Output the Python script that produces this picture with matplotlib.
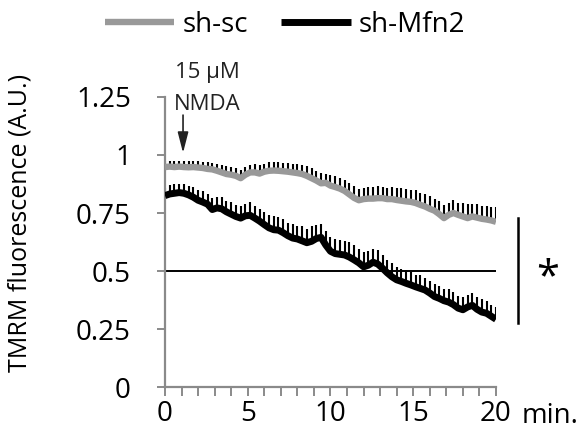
import matplotlib
matplotlib.use("Agg")
import matplotlib.pyplot as plt
import numpy as np

plt.rcParams['font.family'] = ['Open Sans', 'DejaVu Sans']

# time axis: 71 samples over 20 min
minutes = np.linspace(0, 20, 71)

sh_sc = [0.948, 0.950, 0.948, 0.950, 0.948, 0.947, 0.948, 0.946, 0.944, 0.940,
         0.938, 0.932, 0.925, 0.918, 0.915, 0.910, 0.900, 0.915, 0.925, 0.925,
         0.920, 0.928, 0.932, 0.933, 0.932, 0.930, 0.928, 0.925, 0.922, 0.918,
         0.910, 0.900, 0.890, 0.878, 0.880, 0.868, 0.862, 0.855, 0.845, 0.830,
         0.815, 0.805, 0.810, 0.812, 0.812, 0.814, 0.814, 0.810, 0.810, 0.806,
         0.803, 0.800, 0.798, 0.793, 0.785, 0.778, 0.768, 0.760, 0.745, 0.728,
         0.742, 0.750, 0.742, 0.735, 0.728, 0.735, 0.730, 0.725, 0.722, 0.718,
         0.712]
sh_sc_se = [0.024, 0.026, 0.025, 0.026, 0.024, 0.026, 0.025, 0.026, 0.027, 0.028,
            0.028, 0.030, 0.032, 0.034, 0.032, 0.035, 0.037, 0.032, 0.034, 0.036,
            0.038, 0.034, 0.036, 0.037, 0.038, 0.037, 0.036, 0.038, 0.040, 0.038,
            0.042, 0.044, 0.042, 0.046, 0.040, 0.044, 0.047, 0.045, 0.048, 0.050,
            0.052, 0.048, 0.046, 0.050, 0.048, 0.052, 0.050, 0.048, 0.052, 0.050,
            0.054, 0.052, 0.050, 0.054, 0.052, 0.056, 0.054, 0.052, 0.057, 0.055,
            0.050, 0.054, 0.052, 0.057, 0.060, 0.054, 0.058, 0.056, 0.060, 0.057,
            0.062]

sh_mfn2 = [0.825, 0.832, 0.835, 0.838, 0.835, 0.828, 0.818, 0.805, 0.797, 0.788,
           0.765, 0.772, 0.768, 0.755, 0.745, 0.735, 0.728, 0.738, 0.740, 0.728,
           0.715, 0.700, 0.686, 0.678, 0.676, 0.665, 0.652, 0.642, 0.638, 0.630,
           0.622, 0.628, 0.640, 0.645, 0.612, 0.585, 0.575, 0.572, 0.569, 0.560,
           0.548, 0.535, 0.518, 0.525, 0.538, 0.530, 0.512, 0.492, 0.475, 0.462,
           0.455, 0.447, 0.440, 0.432, 0.425, 0.418, 0.405, 0.390, 0.382, 0.372,
           0.366, 0.355, 0.340, 0.333, 0.345, 0.352, 0.335, 0.323, 0.318, 0.305,
           0.292]
sh_mfn2_se = [0.032, 0.037, 0.040, 0.038, 0.042, 0.040, 0.044, 0.042, 0.046, 0.044,
              0.048, 0.046, 0.050, 0.048, 0.052, 0.050, 0.054, 0.052, 0.056, 0.054,
              0.052, 0.056, 0.054, 0.058, 0.056, 0.060, 0.057, 0.060, 0.058, 0.062,
              0.060, 0.064, 0.060, 0.057, 0.062, 0.060, 0.064, 0.062, 0.060, 0.064,
              0.062, 0.060, 0.064, 0.062, 0.057, 0.060, 0.058, 0.056, 0.060, 0.057,
              0.054, 0.057, 0.054, 0.052, 0.056, 0.054, 0.052, 0.056, 0.054, 0.052,
              0.056, 0.054, 0.052, 0.056, 0.050, 0.054, 0.052, 0.056, 0.054, 0.050,
              0.052]

y_ticks = [0, 0.25, 0.5, 0.75, 1, 1.25]
y_tick_labels = ['0', '0.25', '0.5', '0.75', '1', '1.25']
x_ticks = [0, 5, 10, 15, 20]

grey = '#999999'
axis_grey = '#8a8a8a'

fig = plt.figure(figsize=(5.82, 4.33), dpi=100)
ax = fig.add_axes([0.2835, 0.1062, 0.5687, 0.6698])

zeros = np.zeros(len(minutes))
# upper error bars only, under the lines
ax.errorbar(minutes, sh_sc, yerr=[zeros, sh_sc_se], fmt='none', ecolor='black',
            elinewidth=1.5, capsize=0, zorder=2)
ax.errorbar(minutes, sh_mfn2, yerr=[zeros, sh_mfn2_se], fmt='none', ecolor='black',
            elinewidth=1.5, capsize=0, zorder=2)
ax.plot(minutes, sh_sc, color=grey, lw=4.6, label='sh-sc', zorder=3,
        solid_capstyle='butt')
ax.plot(minutes, sh_mfn2, color='black', lw=5.0, label='sh-Mfn2', zorder=3,
        solid_capstyle='butt')

ax.axhline(0.5, color='black', lw=1.4, zorder=1)

ax.set_xlim(0, 20)
ax.set_ylim(0, 1.25)
ax.set_yticks(y_ticks)
ax.set_yticklabels(y_tick_labels)
ax.set_xticks(x_ticks)
ax.set_xticks(np.arange(0, 21, 1), minor=True)

for s in ['top', 'right']:
    ax.spines[s].set_visible(False)
for s in ['left', 'bottom']:
    ax.spines[s].set_color(axis_grey)
    ax.spines[s].set_linewidth(1.6)

ax.tick_params(axis='y', which='major', length=5.5, width=1.4, color=axis_grey,
               labelsize=20, pad=19)
ax.tick_params(axis='x', which='both', length=6.5, width=1.4, color=axis_grey,
               labelsize=20, pad=3)

ax.set_ylabel('TMRM fluorescence (A.U.)', fontsize=18)
ax.yaxis.set_label_coords(-0.40, 0.566)

ax.text(21.55, -0.124, 'min.', transform=ax.get_xaxis_transform(),
        fontsize=20, ha='left', va='baseline')

# stimulus annotation
ax.text(2.55, 1.332, '15 μM', fontsize=16, ha='center', va='baseline',
        color='#222222')
ax.text(2.55, 1.194, 'NMDA', fontsize=16, ha='center', va='baseline',
        color='#222222')
ax.annotate('', xy=(1.09, 1.009), xytext=(1.09, 1.172),
            arrowprops=dict(arrowstyle='-|>,head_length=0.7,head_width=0.18',
                            color='#222222', lw=1.2, mutation_scale=18,
                            shrinkA=0, shrinkB=0),
            annotation_clip=False)

# significance bar
ax.plot([21.33, 21.33], [0.276, 0.728], color='black', lw=1.8, clip_on=False)
ax.text(23.1, 0.47, '*', fontsize=30, ha='center', va='center', clip_on=False)

fig.legend(loc='center', bbox_to_anchor=(0.49, 0.942), ncol=2, frameon=False,
           fontsize=20, handlelength=2.5, handletextpad=0.3, columnspacing=1.2,
           borderaxespad=0)

fig.savefig('out.png', dpi=100)
